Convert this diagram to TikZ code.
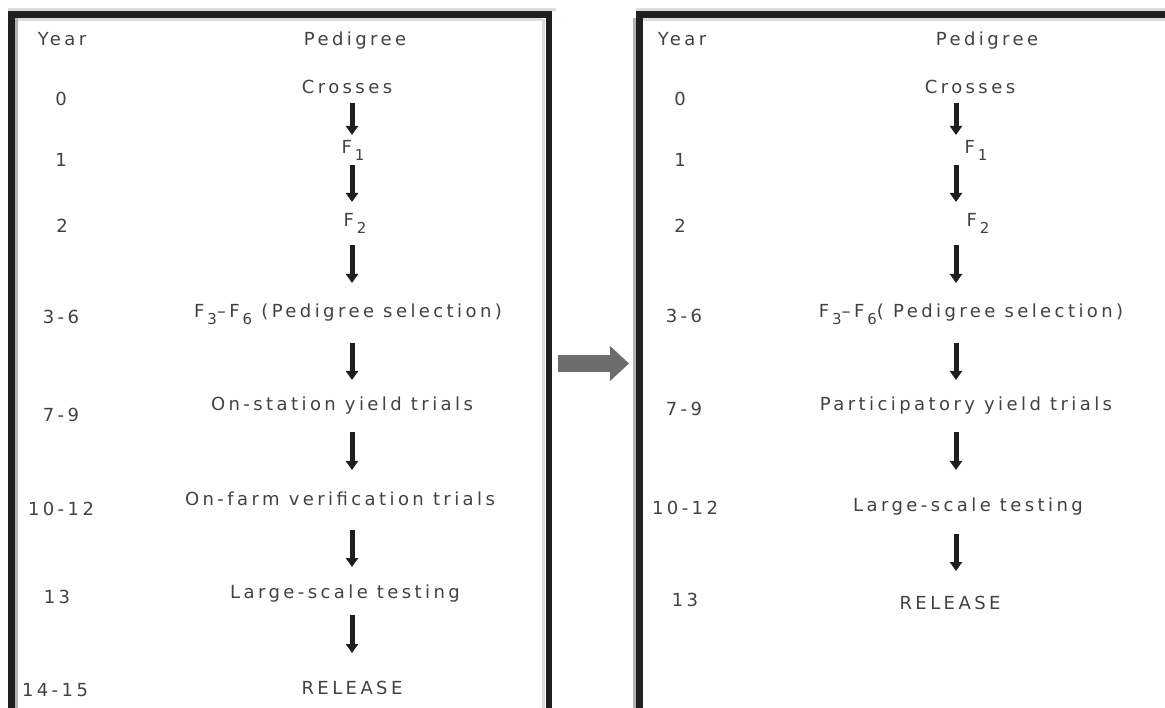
\documentclass[tikz,border=0pt]{standalone}
\usepackage{fontspec}
\usetikzlibrary{arrows.meta}
\newfontfamily\lblfont{DejaVu Sans}[LetterSpace=19]
\definecolor{frk}{HTML}{231F20}
\definecolor{txt}{HTML}{424242}
\definecolor{arrk}{HTML}{1E1E1E}
\definecolor{midg}{HTML}{6D6D6D}
\definecolor{edgeg}{HTML}{B3B3B3}
\definecolor{edgel}{HTML}{DCDCDC}
% lowered generation index, e.g. F with 1 below
\newcommand{\lowsub}[1]{\kern3pt\raisebox{-6.5pt}{\fontsize{15}{15}\selectfont #1}}
\begin{document}
\begin{tikzpicture}[x=1pt,y=-1pt,
  lbl/.style={font=\lblfont\fontsize{18}{20}\selectfont, text=txt, inner sep=0pt, anchor=base},
  darr/.style={draw=arrk, line width=5pt, -{Triangle[width=12pt,length=9pt]}},
  midarr/.style={draw=midg, line width=17pt, -{Triangle[width=34pt,length=19pt]}},
  frame/.style={draw=frk, line width=6.5pt},
  softedge/.style={draw=edgeg, line width=3pt},
  lightedge/.style={draw=edgel, line width=3pt}]
\useasboundingbox (0,0) rectangle (1165,708);
\clip (0,0) rectangle (1165,708);
\fill[white] (0,0) rectangle (1165,708);

% soft scan edges beside the frames
\draw[lightedge] (8,10) -- (556,10);
\draw[lightedge] (16,19.5) -- (542,19.5);
\draw[lightedge] (543.5,19) -- (543.5,708);
\draw[lightedge] (636,10) -- (1165,10);
\draw[lightedge] (643,19.5) -- (1165,19.5);
\draw[softedge] (16.5,18) -- (16.5,708);
\draw[softedge] (634,18) -- (634,708);

% the two frames (bottom and right side run off the page)
\draw[frame] (11.5,14.5) rectangle (549,760);
\draw[frame] (639.5,14.5) rectangle (1200,760);

% ---------- conventional scheme ----------
\node[lbl] (lyh) at (62,46) {Year};
\node[lbl] (lph) at (355,46) {Pedigree};
\node[lbl] (ly0) at (61,106) {0};
\node[lbl] (ly1) at (61,167) {1};
\node[lbl] (ly2) at (62,233) {2};
\node[lbl] (ly3) at (61,324) {3-6};
\node[lbl] (ly4) at (61,422) {7-9};
\node[lbl] (ly5) at (61,515) {10-12};
\node[lbl] (ly6) at (57,603) {13};
\node[lbl] (ly7) at (55,696) {14-15};

\node[lbl] (lc)  at (347,94)  {Crosses};
\node[lbl] (lf1) at (353,154) {F\lowsub{1}};
\node[lbl] (lf2) at (355,227) {F\lowsub{2}};
\node[lbl] (lf3) at (348,318) {F\lowsub{3}–F\lowsub{6} (Pedigree selection)};
\node[lbl] (lon) at (342,411) {On-station yield trials};
\node[lbl] (lfa) at (340,505) {On-farm verification trials};
\node[lbl] (lls) at (345,598) {Large-scale testing};
\node[lbl] (lre) at (352,694) {RELEASE};

\coordinate (spL) at (352,0);
\draw[darr, shorten <=9pt,  shorten >=19pt] (lc.base -| spL)  -- (lf1.base -| spL);
\draw[darr, shorten <=11pt, shorten >=25pt] (lf1.base -| spL) -- (lf2.base -| spL);
\draw[darr, shorten <=18pt, shorten >=35pt] (lf2.base -| spL) -- (lf3.base -| spL);
\draw[darr, shorten <=25pt, shorten >=31pt] (lf3.base -| spL) -- (lon.base -| spL);
\draw[darr, shorten <=21pt, shorten >=35pt] (lon.base -| spL) -- (lfa.base -| spL);
\draw[darr, shorten <=25pt, shorten >=31pt] (lfa.base -| spL) -- (lls.base -| spL);
\draw[darr, shorten <=17pt, shorten >=41pt] (lls.base -| spL) -- (lre.base -| spL);

% ---------- participatory scheme ----------
\node[lbl] (ryh) at (682,46) {Year};
\node[lbl] (rph) at (987,46) {Pedigree};
\node[lbl] (ry0) at (680,106) {0};
\node[lbl] (ry1) at (680,167) {1};
\node[lbl] (ry2) at (680,233) {2};
\node[lbl] (ry3) at (684,323) {3-6};
\node[lbl] (ry4) at (684,416) {7-9};
\node[lbl] (ry5) at (685,514) {10-12};
\node[lbl] (ry6) at (685,606) {13};

\node[lbl] (rc)  at (970,94)  {Crosses};
\node[lbl] (rf1) at (976,154) {F\lowsub{1}};
\node[lbl] (rf2) at (978,227) {F\lowsub{2}};
\node[lbl] (rf3) at (971,318) {F\lowsub{3}–F\lowsub{6}( Pedigree selection)};
\node[lbl] (rpy) at (966,411) {Participatory yield trials};
\node[lbl] (rls) at (968,511) {Large-scale testing};
\node[lbl] (rre) at (950,609) {RELEASE};

\coordinate (spR) at (956,0);
\draw[darr, shorten <=9pt,  shorten >=19pt] (rc.base -| spR)  -- (rf1.base -| spR);
\draw[darr, shorten <=11pt, shorten >=25pt] (rf1.base -| spR) -- (rf2.base -| spR);
\draw[darr, shorten <=18pt, shorten >=35pt] (rf2.base -| spR) -- (rf3.base -| spR);
\draw[darr, shorten <=25pt, shorten >=31pt] (rf3.base -| spR) -- (rpy.base -| spR);
\draw[darr, shorten <=21pt, shorten >=41pt] (rpy.base -| spR) -- (rls.base -| spR);
\draw[darr, shorten <=23pt, shorten >=38pt] (rls.base -| spR) -- (rre.base -| spR);

% ---------- link between the schemes ----------
\coordinate (mS) at (558,363.5);
\coordinate (mE) at (629,363.5);
\draw[midarr] (mS) -- (mE);
\end{tikzpicture}
\end{document}
